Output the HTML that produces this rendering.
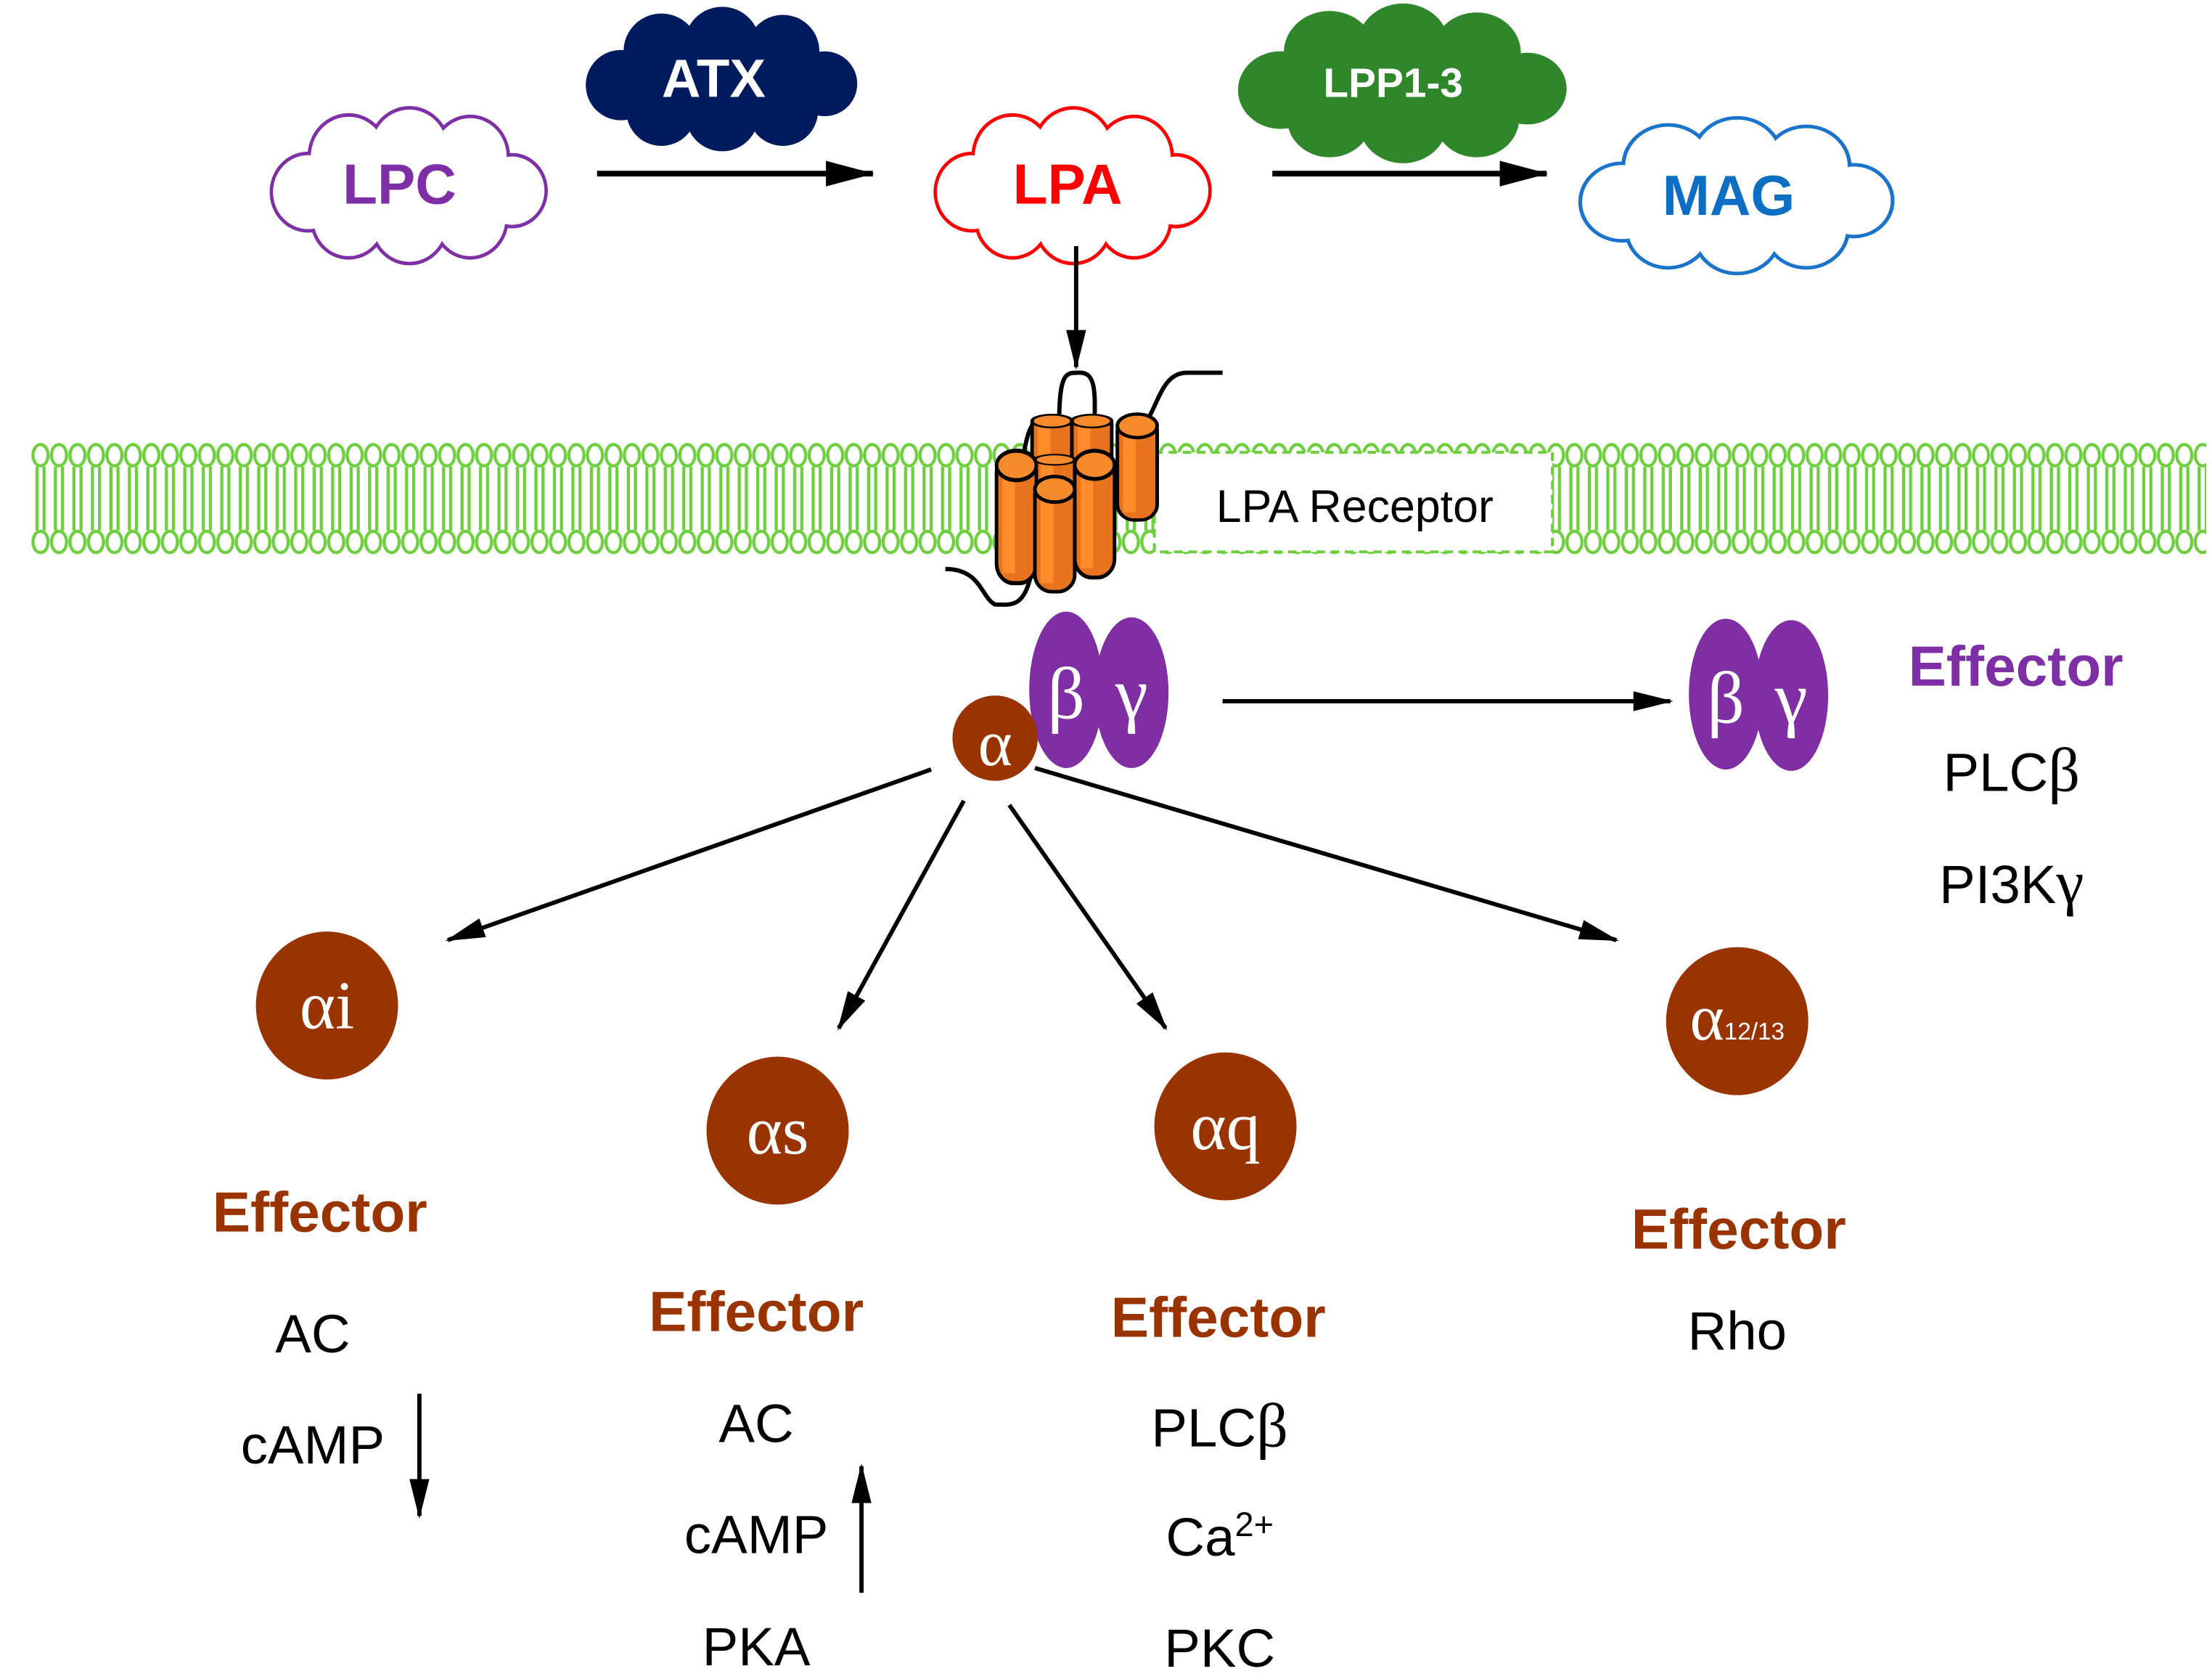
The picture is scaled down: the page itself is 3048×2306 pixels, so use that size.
<!DOCTYPE html>
<html><head><meta charset="utf-8"><style>
html,body{margin:0;padding:0;background:#fff}
svg{display:block}
text{font-family:"Liberation Sans",sans-serif}
.sr{font-family:"Liberation Serif",serif}
</style></head><body>
<svg width="3048" height="2306" viewBox="0 0 1556 1177" xmlns="http://www.w3.org/2000/svg">
<defs>
<g id="cl">
<circle cx="-75" cy="5" r="26"/><circle cx="-45" cy="-20" r="28"/><circle cx="0" cy="-25" r="28"/><circle cx="45" cy="-20" r="27"/><circle cx="76" cy="4" r="24"/><circle cx="45" cy="24" r="26"/><circle cx="0" cy="27" r="27"/><circle cx="-45" cy="24" r="26"/><circle cx="0" cy="0" r="40"/>
</g>
<pattern id="mem" patternUnits="userSpaceOnUse" x="22" y="305" width="13" height="90">
<g fill="#fff" stroke="#6ecf3e" stroke-width="2.2">
<ellipse cx="6.5" cy="15" rx="5.3" ry="7.5"/><ellipse cx="6.5" cy="76" rx="5.3" ry="7.5"/>
<path d="M4 23V46M9 23V46M4 46V68M9 46V68"/>
</g>
</pattern>
<marker id="ah2" markerWidth="28" markerHeight="14" refX="26" refY="7" orient="auto" markerUnits="userSpaceOnUse"><path d="M0 0L28 7L0 14z" fill="#000"/></marker>
<marker id="ah3" markerWidth="34" markerHeight="18" refX="33" refY="9" orient="auto" markerUnits="userSpaceOnUse"><path d="M0 0L34 9L0 18z" fill="#000"/></marker>
<g id="cyl">
<rect x="-14" y="0" width="28" height="80" rx="12" fill="#e8731e" stroke="#000" stroke-width="2.5"/>
<rect x="-10" y="8" width="9" height="66" fill="#ff8c2a"/>
<ellipse cx="0" cy="8" rx="14" ry="9" fill="#f58a2c" stroke="#000" stroke-width="2.5"/>
</g>
</defs>

<g transform="translate(508,55) scale(0.95,0.95)" fill="#001a5e"><use href="#cl"/></g>
<text x="502" y="68" font-size="38" font-weight="bold" fill="#fff" text-anchor="middle">ATX</text>
<g transform="translate(987,58) scale(1.15,1.05)" fill="#2f862b"><use href="#cl"/></g>
<text x="980" y="68" font-size="29" font-weight="bold" fill="#fff" text-anchor="middle">LPP1-3</text>

<g transform="translate(288,130) scale(0.95,1)"><use href="#cl" fill="#fff" stroke="#7f2fa5" stroke-width="5"/><use href="#cl" fill="#fff"/></g>
<text x="281" y="143" font-size="40" font-weight="bold" fill="#7f2fa5" text-anchor="middle">LPC</text>
<g transform="translate(755,130) scale(0.95,1)"><use href="#cl" fill="#fff" stroke="#ff0000" stroke-width="5"/><use href="#cl" fill="#fff"/></g>
<text x="751" y="143" font-size="40" font-weight="bold" fill="#ff0000" text-anchor="middle">LPA</text>
<g transform="translate(1222,137) scale(1.08,1)"><use href="#cl" fill="#fff" stroke="#1a74cc" stroke-width="5"/><use href="#cl" fill="#fff"/></g>
<text x="1216" y="151" font-size="40" font-weight="bold" fill="#0c6fc4" text-anchor="middle">MAG</text>

<line x1="420" y1="122" x2="614" y2="122" stroke="#000" stroke-width="4" marker-end="url(#ah3)"/>
<line x1="895" y1="122" x2="1088" y2="122" stroke="#000" stroke-width="4" marker-end="url(#ah3)"/>
<line x1="757" y1="173" x2="757" y2="258" stroke="#000" stroke-width="3" marker-end="url(#ah2)"/>

<rect x="22" y="305" width="1530" height="90" fill="url(#mem)"/>
<rect x="812" y="318" width="280" height="70" fill="#fff" stroke="#6ecf3e" stroke-width="2" stroke-dasharray="6 4"/>
<text x="953" y="367" font-size="32" fill="#000" text-anchor="middle">LPA Receptor</text>

<path d="M860 262H835C815 262 815 290 800 305" fill="none" stroke="#000" stroke-width="3"/>
<path d="M745 300C745 260 750 262 760 262C772 262 770 280 770 300" fill="none" stroke="#000" stroke-width="3"/>
<path d="M720 320C725 290 730 295 745 295" fill="none" stroke="#000" stroke-width="3"/>
<path d="M665 400C690 400 690 420 700 425C710 425 720 428 725 405" fill="none" stroke="#000" stroke-width="3"/>
<use href="#cyl" transform="translate(740,292) scale(1,0.5)"/>
<use href="#cyl" transform="translate(768,292) scale(1,0.5)"/>
<use href="#cyl" transform="translate(800,292) scale(1,0.92)"/>
<use href="#cyl" transform="translate(742,320) scale(1,0.4)"/>
<use href="#cyl" transform="translate(715,318) scale(1,1.15)"/>
<use href="#cyl" transform="translate(770,318) scale(1,1.1)"/>
<use href="#cyl" transform="translate(742,336) scale(1,1.0)"/>

<ellipse cx="750" cy="485" rx="26" ry="55" fill="#7f2ea3"/>
<ellipse cx="796" cy="487" rx="26" ry="53" fill="#7f2ea3"/>
<text x="750" y="505" class="sr" font-size="52" fill="#fff" text-anchor="middle">β</text>
<text x="796" y="505" class="sr" font-size="52" fill="#fff" text-anchor="middle">γ</text>
<circle cx="700" cy="519" r="30" fill="#993300"/>
<text x="700" y="538" class="sr" font-size="46" fill="#fff" text-anchor="middle">α</text>

<line x1="860" y1="493" x2="1175" y2="493" stroke="#000" stroke-width="3" marker-end="url(#ah2)"/>
<ellipse cx="1214" cy="488" rx="26" ry="53" fill="#7f2ea3"/>
<ellipse cx="1260" cy="489" rx="26" ry="53" fill="#7f2ea3"/>
<text x="1214" y="508" class="sr" font-size="52" fill="#fff" text-anchor="middle">β</text>
<text x="1260" y="508" class="sr" font-size="52" fill="#fff" text-anchor="middle">γ</text>
<text x="1418" y="482" font-size="40" font-weight="bold" fill="#7f2fa5" text-anchor="middle">Effector</text>
<text x="1415" y="556" font-size="38" fill="#000" text-anchor="middle">PLC<tspan class="sr" font-size="44">β</tspan></text>
<text x="1415" y="635" font-size="38" fill="#000" text-anchor="middle">PI3K<tspan class="sr" font-size="44">γ</tspan></text>

<line x1="655" y1="541" x2="315" y2="661" stroke="#000" stroke-width="3" marker-end="url(#ah2)"/>
<line x1="678" y1="563" x2="590" y2="723" stroke="#000" stroke-width="3" marker-end="url(#ah2)"/>
<line x1="710" y1="566" x2="820" y2="723" stroke="#000" stroke-width="3" marker-end="url(#ah2)"/>
<line x1="728" y1="540" x2="1137" y2="661" stroke="#000" stroke-width="3" marker-end="url(#ah2)"/>

<g fill="#993300"><ellipse cx="230" cy="707" rx="50" ry="52"/><ellipse cx="547" cy="795" rx="50" ry="52"/><ellipse cx="862" cy="792" rx="50" ry="52"/><ellipse cx="1222" cy="718" rx="50" ry="52"/></g>
<text x="230" y="723" class="sr" font-size="48" fill="#fff" text-anchor="middle">αi</text>
<text x="547" y="811" class="sr" font-size="48" fill="#fff" text-anchor="middle">αs</text>
<text x="862" y="808" class="sr" font-size="48" fill="#fff" text-anchor="middle">αq</text>
<text x="1222" y="731" class="sr" fill="#fff" text-anchor="middle"><tspan font-size="46">α</tspan><tspan font-size="17" font-family="Liberation Sans">12/13</tspan></text>

<g font-size="40" font-weight="bold" fill="#993300" text-anchor="middle">
<text x="225" y="866">Effector</text><text x="532" y="936">Effector</text><text x="857" y="940">Effector</text><text x="1223" y="878">Effector</text>
</g>
<g font-size="38" fill="#000" text-anchor="middle">
<text x="220" y="951">AC</text><text x="220" y="1029">cAMP</text>
<text x="532" y="1014">AC</text><text x="532" y="1092">cAMP</text><text x="532" y="1171">PKA</text>
<text x="858" y="1017">PLC<tspan class="sr" font-size="44">β</tspan></text>
<text x="858" y="1094">Ca<tspan font-size="24" dy="-14">2+</tspan></text>
<text x="858" y="1172">PKC</text>
<text x="1222" y="949">Rho</text>
</g>
<line x1="295" y1="980" x2="295" y2="1066" stroke="#000" stroke-width="3" marker-end="url(#ah2)"/>
<line x1="606" y1="1120" x2="606" y2="1031" stroke="#000" stroke-width="3" marker-end="url(#ah2)"/>
</svg>
</body></html>
